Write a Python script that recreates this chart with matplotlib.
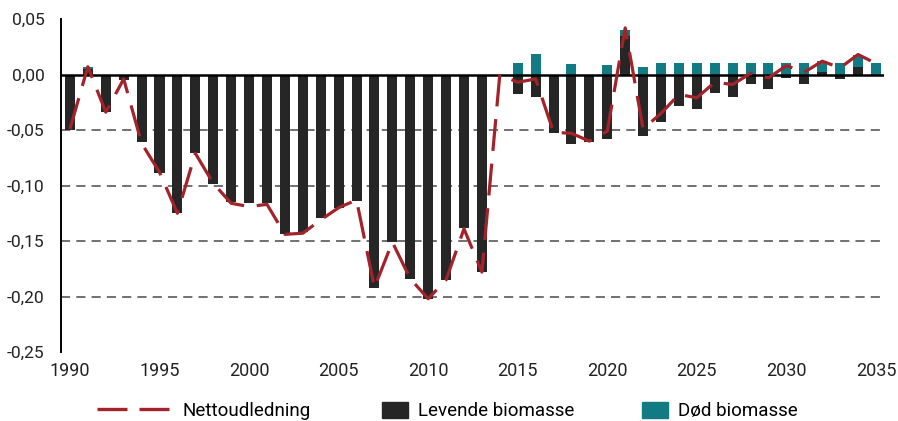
import matplotlib
matplotlib.use("Agg")
import matplotlib.pyplot as plt
from matplotlib.lines import Line2D
from matplotlib.patches import Patch
import numpy as np

plt.rcParams['font.family'] = ['Roboto', 'DejaVu Sans']

years = list(range(1990, 2036))

levende = [-0.050, 0.005, -0.034, -0.005, -0.061, -0.089, -0.125, -0.071, -0.099, -0.115,
           -0.116, -0.116, -0.144, -0.142, -0.129, -0.120, -0.114, -0.192, -0.151, -0.184,
           -0.202, -0.185, -0.138, -0.178, -0.001, -0.018, -0.020, -0.053, -0.063, -0.061,
           -0.058, 0.035, -0.055, -0.043, -0.028, -0.031, -0.017, -0.020, -0.009, -0.013,
           -0.003, -0.009, 0.002, -0.004, 0.0065, 0.0]

doed = [0.0, 0.002, 0.0, 0.0, 0.0, 0.0, 0.0, 0.0, 0.0, 0.0,
        0.0, 0.0, 0.0, 0.0, 0.0, 0.0, 0.0, 0.0, 0.0, 0.0,
        0.0, 0.0, 0.0, 0.0, 0.0, 0.0105, 0.0185, 0.0, 0.0095, 0.0,
        0.0087, 0.005, 0.0065, 0.010, 0.0105, 0.0105, 0.0105, 0.0105, 0.0105, 0.0105,
        0.0105, 0.0105, 0.010, 0.0105, 0.0115, 0.0105]

netto = [-0.049, 0.007, -0.034, -0.004, -0.062, -0.088, -0.125, -0.071, -0.098, -0.116,
         -0.119, -0.117, -0.144, -0.143, -0.131, -0.120, -0.113, -0.192, -0.151, -0.184,
         -0.202, -0.185, -0.139, -0.178, 0.000, -0.007, -0.004, -0.052, -0.053, -0.060,
         -0.051, 0.042, -0.049, -0.035, -0.018, -0.021, -0.007, -0.009, 0.001, -0.003,
         0.008, 0.002, 0.012, 0.006, 0.018, 0.010]

yticks = [0.05, 0.0, -0.05, -0.10, -0.15, -0.20, -0.25]
ytick_labels = ["0,05", "0,00", "-0,05", "-0,10", "-0,15", "-0,20", "-0,25"]
xticks = [1990, 1995, 2000, 2005, 2010, 2015, 2020, 2025, 2030, 2035]

label_net = "Nettoudledning"
label_lev = "Levende biomasse"
label_doed = "Død biomasse"

c_dark = "#262626"
c_teal = "#127A82"
c_red = "#A3232B"

fig = plt.figure(figsize=(8.98, 4.21), dpi=100)
ax = fig.add_axes([61/898, 1-352/421, (884-61)/898, (352-19)/421])

lev = np.array(levende)
bottom_d = np.where(lev > 0, lev, 0.0)

ax.bar(years, levende, width=0.56, color=c_dark, zorder=3)
ax.bar(years, doed, width=0.56, bottom=bottom_d, color=c_teal, zorder=3)
ax.plot(years, netto, color=c_red, lw=2.3, dashes=(10, 4), zorder=5)

for g in [-0.05, -0.10, -0.15, -0.20]:
    ax.axhline(g, color="#4a4a4a", lw=1.1, dashes=(6, 4), zorder=1)
ax.axhline(0, color="black", lw=1.8, zorder=4)

ax.set_xlim(1989.5, 2035.45)
ax.set_ylim(-0.25, 0.05)
ax.set_yticks(yticks)
ax.set_yticklabels(ytick_labels)
ax.set_xticks(xticks)
ax.set_xticklabels([str(x) for x in xticks])
ax.tick_params(axis='both', length=0, colors="#222222")
ax.tick_params(axis='y', pad=12, labelsize=12.5)
ax.tick_params(axis='x', pad=7, labelsize=13)
for s in ['top', 'right', 'bottom']:
    ax.spines[s].set_visible(False)
ax.spines['left'].set_linewidth(1.4)
ax.spines['left'].set_color("black")

fs = 13.5
em = fs * 100 / 72
common = dict(frameon=False, borderpad=0, borderaxespad=0, fontsize=fs, loc='center left')
h1 = Line2D([0], [0], color=c_red, lw=2.4, dashes=(9.0, 3.6))
l1 = fig.legend([h1], [label_net], bbox_to_anchor=(97/898, 1-411/421),
                handlelength=72/em, handletextpad=(183-169)/em, **common)
h2 = Patch(color=c_dark)
l2 = fig.legend([h2], [label_lev], bbox_to_anchor=(382/898, 1-411/421),
                handlelength=26/em, handleheight=1.0, handletextpad=(418-408)/em, **common)
h3 = Patch(color=c_teal)
l3 = fig.legend([h3], [label_doed], bbox_to_anchor=(642/898, 1-411/421),
                handlelength=26/em, handleheight=1.0, handletextpad=(678-668)/em, **common)

fig.savefig("out.png", dpi=100)
